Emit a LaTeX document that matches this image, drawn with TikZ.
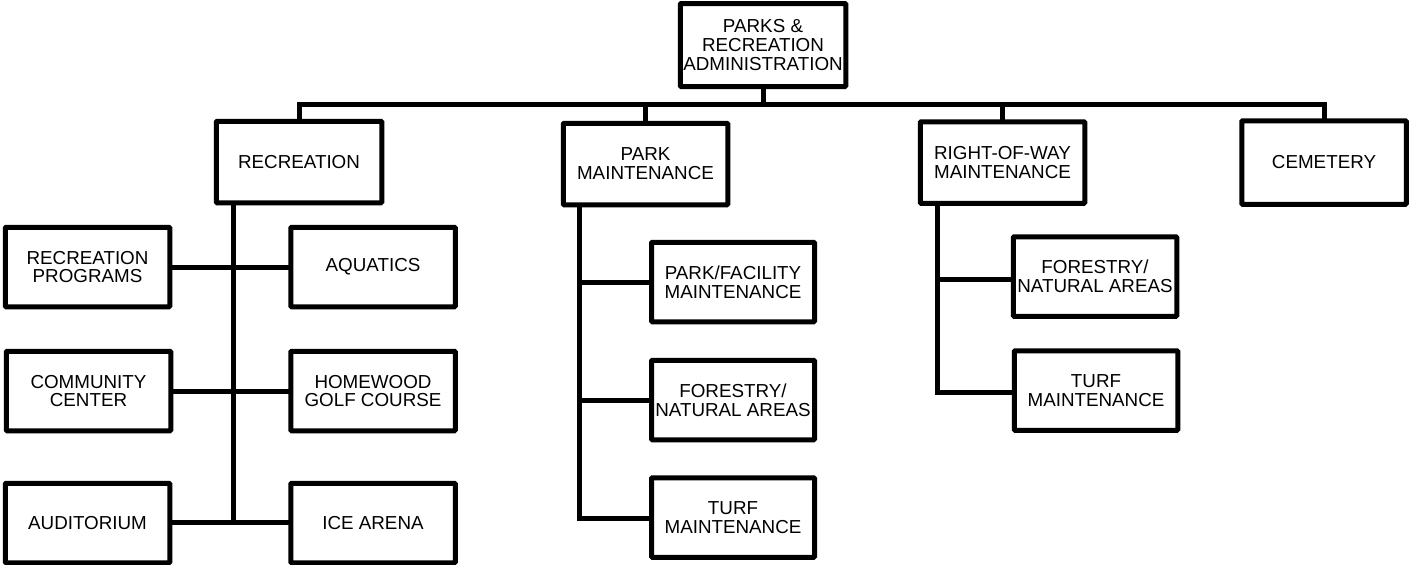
\documentclass[tikz,border=0pt]{standalone}
\usepackage{fontspec}
\setmainfont{Liberation Sans}
\begin{document}
\begin{tikzpicture}[x=1pt,y=-1pt,
  orgbox/.style={draw=black, line width=5pt, rounded corners=1pt, fill=white,
    inner sep=0pt, align=center, font=\fontsize{18.8}{18.8}\selectfont,
    minimum width=164.5pt, minimum height=81.5pt},
  conn/.style={draw=black, line width=5pt, line cap=rect}]
\useasboundingbox (0,0) rectangle (1409,565);
\coordinate (bus) at (763,104);
\coordinate (rv) at (233,522);
\coordinate (pv) at (579,518);
\coordinate (wv) at (937,392);
% top
\node[orgbox, minimum width=165.5pt, minimum height=83pt] (top) at (763,45) {PARKS \&\\RECREATION\\ADMINISTRATION};
% level 1
\node[orgbox, minimum width=165.5pt] (rec) at (299,162) {RECREATION};
\node[orgbox] (pm) at (645.5,164) {PARK\\MAINTENANCE};
\node[orgbox] (row) at (1002.5,162.5) {RIGHT-OF-WAY\\MAINTENANCE};
\node[orgbox, minimum height=83.5pt] (cem) at (1324,162.5) {CEMETERY};
% recreation children
\node[orgbox, minimum height=79.5pt] (rprog) at (87.5,267) {RECREATION\\PROGRAMS};
\node[orgbox, minimum height=79.5pt] (aqua) at (373,267) {AQUATICS};
\node[orgbox, minimum height=79.5pt] (comm) at (88.5,391) {COMMUNITY\\CENTER};
\node[orgbox, minimum height=79.5pt] (home) at (373,391) {HOMEWOOD\\GOLF COURSE};
\node[orgbox, minimum height=79.5pt] (aud) at (87.5,523) {AUDITORIUM};
\node[orgbox, minimum height=79.5pt] (ice) at (373,523) {ICE ARENA};
% park maintenance children
\node[orgbox, minimum width=163pt, minimum height=79.5pt] (pf) at (733,282) {PARK/FACILITY\\MAINTENANCE};
\node[orgbox, minimum width=163pt, minimum height=79.5pt] (pfor) at (733,400) {FORESTRY/\\NATURAL AREAS};
\node[orgbox, minimum width=163pt, minimum height=79.5pt] (pturf) at (733,517.5) {TURF\\MAINTENANCE};
% right-of-way children
\node[orgbox, minimum width=163.5pt, minimum height=79.5pt] (rfor) at (1095,276.5) {FORESTRY/\\NATURAL AREAS};
\node[orgbox, minimum width=163.5pt, minimum height=79.5pt] (rturf) at (1096,390.5) {TURF\\MAINTENANCE};

% bus connectors
\draw[conn] (top.south) -- (bus);
\draw[conn] (rec.north) |- (bus) -| (cem.north);
\draw[conn] (pm.north) -- (pm.north |- bus);
\draw[conn] (row.north) -- (row.north |- bus);
% recreation tree
\draw[conn] (rec.south -| rv) -- (rv);
\draw[conn] (rprog.east) -- (aqua.west);
\draw[conn] (comm.east) -- (home.west);
\draw[conn] (aud.east |- rv) -- (ice.west |- rv);
% park maintenance tree
\draw[conn, line cap=butt] (pm.south -| pv) -- (pv) -- (pturf.west |- pv);
\draw[conn] (pf.west) -- (pf.west -| pv);
\draw[conn] (pfor.west) -- (pfor.west -| pv);
% right-of-way tree
\draw[conn, line cap=butt] (row.south -| wv) -- (wv) -- (rturf.west |- wv);
\draw[conn] (rfor.west |- 0,279) -- (wv |- 0,279);
\end{tikzpicture}
\end{document}
